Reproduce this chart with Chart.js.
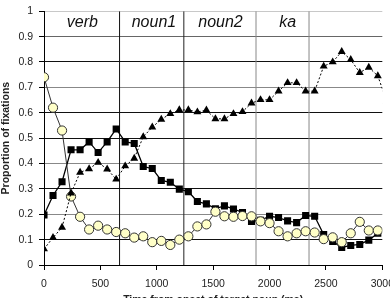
<!DOCTYPE html>
<html>
<head>
<meta charset="utf-8">
<script src="https://cdn.jsdelivr.net/npm/chart.js@4.4.0/dist/chart.umd.min.js"></script>
<style>
  html, body { margin: 0; padding: 0; background: #fff; overflow: hidden; }
  #wrap { width: 403px; height: 306px; }
</style>
</head>
<body>
<div id="wrap"><canvas id="myChart" width="403" height="306"></canvas></div>
<script>
// time bins (ms)
const times = [0, 80, 160, 240, 320, 400, 480, 560, 640, 720, 800, 880, 960, 1040, 1120, 1200,
  1280, 1360, 1440, 1520, 1600, 1680, 1760, 1840, 1920, 2000, 2080, 2160, 2240, 2320, 2400,
  2480, 2560, 2640, 2720, 2800, 2880, 2960, 3040];

// proportion of fixations per series
const circles = [0.74, 0.62, 0.53, 0.27, 0.19, 0.14, 0.155, 0.14, 0.13, 0.125, 0.108, 0.113,
  0.09, 0.095, 0.079, 0.1, 0.113, 0.152, 0.16, 0.21, 0.192, 0.19, 0.193, 0.192, 0.172, 0.165,
  0.133, 0.113, 0.125, 0.133, 0.128, 0.102, 0.109, 0.09, 0.125, 0.17, 0.136, 0.136, null];
const squares = [0.197, 0.274, 0.328, 0.454, 0.454, 0.485, 0.443, 0.485, 0.536, 0.485, 0.479,
  0.388, 0.38, 0.333, 0.326, 0.299, 0.289, 0.25, 0.241, 0.222, 0.233, 0.221, 0.207, 0.172,
  0.176, 0.192, 0.187, 0.174, 0.167, 0.195, 0.192, 0.12, 0.093, 0.069, 0.077, 0.081, 0.098,
  0.125, null];
const triangles = [0.063, 0.108, 0.148, 0.283, 0.365, 0.379, 0.404, 0.378, 0.338, 0.39, 0.42,
  0.505, 0.543, 0.574, 0.596, 0.611, 0.611, 0.603, 0.61, 0.576, 0.576, 0.596, 0.604, 0.638,
  0.651, 0.651, 0.685, 0.718, 0.718, 0.685, 0.685, 0.783, 0.8, 0.841, 0.809, 0.758, 0.779,
  0.745, 0.645];

// sentence regions
const regionNames = ['verb', 'noun1', 'noun2', 'ka'];
const regionLabelAt = [340, 975, 1565, 2160];
const regionEdges = [670, 1240, 1880, 2350];

const xTicks = [0, 500, 1000, 1500, 2000, 2500, 3000];
const yTicks = [0, 0.1, 0.2, 0.3, 0.4, 0.5, 0.6, 0.7, 0.8, 0.9, 1];

const edgeColors = ['#111', '#222', '#888', '#888'];
const yGridColors = ['#000', '#111', '#888', '#111', '#888', '#111', '#111', '#888', '#111', '#666', '#c8c8c8'];

const pts = arr => times.map((t, i) => ({ x: t, y: arr[i] }));

const edgeSets = regionEdges.map((e, i) => ({
  data: [{ x: e, y: 0 }, { x: e, y: 1 }],
  borderColor: edgeColors[i],
  borderWidth: 1,
  pointRadius: 0,
  order: 5
}));

const regionLabels = {
  id: 'regionLabels',
  afterDraw(chart) {
    const ctx = chart.ctx;
    const xs = chart.scales.x, ys = chart.scales.y;
    ctx.save();
    ctx.font = 'italic 16px "Liberation Sans", Arial, sans-serif';
    ctx.fillStyle = '#111';
    ctx.textAlign = 'center';
    ctx.textBaseline = 'alphabetic';
    regionNames.forEach((n, i) => {
      ctx.fillText(n, xs.getPixelForValue(regionLabelAt[i]), ys.getPixelForValue(0.937));
    });
    ctx.restore();
  }
};

const tickFont = { family: '"Liberation Sans", Arial, sans-serif', size: 10.5, lineHeight: 1.0 };
const titleFont = { family: '"Liberation Sans", Arial, sans-serif', size: 10.5, weight: 'bold' };

new Chart(document.getElementById('myChart').getContext('2d'), {
  type: 'line',
  data: {
    datasets: [
      {
        data: pts(triangles),
        borderColor: '#000',
        borderWidth: 1,
        borderDash: [2, 2],
        pointStyle: 'triangle',
        pointRadius: 4.6,
        pointBorderWidth: 0,
        pointBackgroundColor: '#000',
        order: 0
      },
      {
        data: pts(circles),
        borderColor: '#333',
        borderWidth: 1,
        pointStyle: 'circle',
        pointRadius: 4.6,
        pointBorderWidth: 1,
        pointBorderColor: '#333',
        pointBackgroundColor: '#ffffc8',
        order: 1
      },
      {
        data: pts(squares),
        borderColor: '#000',
        borderWidth: 1.3,
        pointStyle: 'rect',
        pointRadius: 5,
        pointBorderWidth: 0,
        pointBackgroundColor: '#000',
        order: 2
      },
      ...edgeSets
    ]
  },
  options: {
    responsive: false,
    animation: false,
    layout: { padding: 0, autoPadding: false },
    elements: { line: { tension: 0 } },
    plugins: { legend: { display: false }, tooltip: { enabled: false } },
    scales: {
      x: {
        type: 'linear',
        min: 0,
        max: 3000,
        afterFit: s => { s.height = 41; },
        afterBuildTicks: s => { s.ticks = xTicks.map(v => ({ value: v })); },
        grid: { drawOnChartArea: false, drawTicks: true, tickLength: 5, tickColor: '#000' },
        border: { color: '#000', width: 1 },
        ticks: { font: tickFont, color: '#222', padding: 9, maxRotation: 0, callback: v => String(v) },
        title: { display: true, text: 'Time from onset of target noun (ms)', font: titleFont, color: '#222', padding: 0 }
      },
      y: {
        min: 0,
        max: 1,
        afterFit: s => { s.width = 44; },
        afterBuildTicks: s => { s.ticks = yTicks.map(v => ({ value: v })); },
        grid: {
          color: c => yGridColors[c.index] || '#111',
          tickLength: 5,
          tickColor: '#000'
        },
        border: { color: '#000', width: 1 },
        ticks: { font: tickFont, color: '#222', padding: 6, callback: v => String(+v.toFixed(1)) },
        title: { display: true, text: 'Proportion of fixations', font: titleFont, color: '#222', padding: 0 }
      }
    }
  },
  plugins: [regionLabels]
});
</script>
</body>
</html>
